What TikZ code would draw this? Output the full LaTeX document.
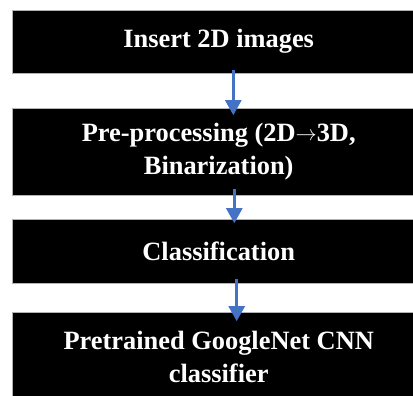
\documentclass[tikz,border=0pt]{standalone}
\usepackage{fontspec}
\setmainfont{Liberation Serif}
\usetikzlibrary{arrows.meta,calc}
\definecolor{arrowblue}{HTML}{4472C4}
\newcommand{\thinarrow}{\raisebox{0.5pt}{\scalebox{0.85}{$\rightarrow$}}}
\tikzset{
  stepbox/.style={rectangle, fill=black, draw=gray!60, line width=0.6pt, text=white,
    minimum width=412pt, align=center, inner sep=0pt,
    font=\fontsize{26.4}{33.5}\selectfont\bfseries},
  flowarrow/.style={draw=arrowblue, line width=2.6pt,
    -{Triangle[width=16pt,length=15pt]}, arrowblue}
}
\begin{document}
\begin{tikzpicture}[x=1pt,y=-1pt]
\useasboundingbox (0,0) rectangle (413,396);
\node[stepbox, minimum height=63pt] (b1) at (218.7,41.5) {Insert 2D images};
\node[stepbox, minimum height=87pt] (b2) at (218.7,151.5) {Pre-processing (2D\thinarrow3D,\\Binarization)};
\node[stepbox, minimum height=64pt] (b3) at (218.7,251) {Classification};
\node[stepbox, minimum height=90pt] (b4) at (218.7,357) {Pretrained GoogleNet CNN\\classifier};
\draw[flowarrow] ($(b1.south)+(14.6,-3)$) -- ($(b2.north)+(14.6,7.5)$);
\draw[flowarrow] ($(b2.south)+(15.6,-6)$) -- ($(b3.north)+(15.6,4.5)$);
\draw[flowarrow] ($(b3.south)+(18,-4)$) -- ($(b4.north)+(18,9.5)$);
\end{tikzpicture}
\end{document}
